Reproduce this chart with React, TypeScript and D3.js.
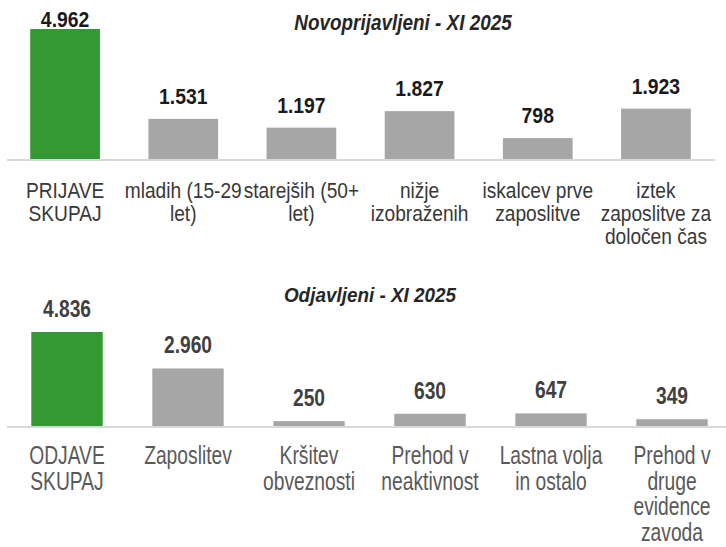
import React from "react";
import * as d3 from "d3";

const topTitle = "Novoprijavljeni - XI 2025";
const topCategories = [
  "PRIJAVE\nSKUPAJ",
  "mladih (15-29\nlet)",
  "starejših (50+\nlet)",
  "nižje\nizobraženih",
  "iskalcev prve\nzaposlitve",
  "iztek\nzaposlitve za\ndoločen čas",
];
const topValues = [4962, 1531, 1197, 1827, 798, 1923];
const topLabels = ["4.962", "1.531", "1.197", "1.827", "798", "1.923"];

const bottomTitle = "Odjavljeni - XI 2025";
const bottomCategories = [
  "ODJAVE\nSKUPAJ",
  "Zaposlitev",
  "Kršitev\nobveznosti",
  "Prehod v\nneaktivnost",
  "Lastna volja\nin ostalo",
  "Prehod v\ndruge\nevidence\nzavoda",
];
const bottomValues = [4836, 2960, 250, 630, 647, 349];
const bottomLabels = ["4.836", "2.960", "250", "630", "647", "349"];

const GREEN = "#339933";
const GREY = "#a6a6a6";
const AXIS = "#d9d9d9";
const FONT = "'Liberation Sans', Arial, sans-serif";

type PanelCfg = {
  title: string;
  cats: string[];
  vals: number[];
  labels: string[];
  x0: number;
  x1: number;
  base: number;
  top: number;
  axisX0: number;
  axisX1: number;
  titleX: number;
  titleY: number;
  titleSize: number;
  titleSx: number;
  valSize: number;
  valSx: number;
  valColor: string;
  valMinY: number;
  catSize: number;
  catSx: number;
  catColor: string;
  catY: number;
  catLH: number;
};

function Txt(props: {
  x: number;
  y: number;
  sx: number;
  size: number;
  weight?: string;
  italic?: boolean;
  fill: string;
  children: string;
}) {
  const { x, y, sx, size, weight, italic, fill, children } = props;
  return (
    <g transform={`translate(${x},${y}) scale(${sx},1)`}>
      <text
        x={0}
        y={0}
        textAnchor="middle"
        fontFamily={FONT}
        fontSize={size}
        fontWeight={weight || "normal"}
        fontStyle={italic ? "italic" : "normal"}
        fill={fill}
      >
        {children}
      </text>
    </g>
  );
}

function Panel({ c }: { c: PanelCfg }) {
  const x = d3
    .scaleBand<string>()
    .domain(c.cats)
    .range([c.x0, c.x1])
    .paddingInner(0.41)
    .paddingOuter(0.205);
  const y = d3
    .scaleLinear()
    .domain([0, d3.max(c.vals) as number])
    .range([c.base, c.top]);
  return (
    <g>
      <Txt x={c.titleX} y={c.titleY} sx={c.titleSx} size={c.titleSize} weight="bold" italic fill="#262626">
        {c.title}
      </Txt>
      {c.cats.map((cat, i) => (
        <rect
          key={"b" + i}
          x={x(cat)}
          y={y(c.vals[i])}
          width={x.bandwidth()}
          height={c.base - y(c.vals[i])}
          fill={i === 0 ? GREEN : GREY}
        />
      ))}
      <line x1={c.axisX0} x2={c.axisX1} y1={c.base + 1} y2={c.base + 1} stroke={AXIS} strokeWidth={2} />
      {c.cats.map((cat, i) => (
        <Txt
          key={"v" + i}
          x={(x(cat) as number) + x.bandwidth() / 2}
          y={Math.max(y(c.vals[i]) - 15, c.valMinY)}
          sx={c.valSx}
          size={c.valSize}
          weight="bold"
          fill={c.valColor}
        >
          {c.labels[i]}
        </Txt>
      ))}
      {c.cats.map((cat, i) =>
        cat.split("\n").map((line, j) => (
          <Txt
            key={"c" + i + "_" + j}
            x={(x(cat) as number) + x.bandwidth() / 2}
            y={c.catY + j * c.catLH}
            sx={c.catSx}
            size={c.catSize}
            fill={c.catColor}
          >
            {line}
          </Txt>
        ))
      )}
    </g>
  );
}

export default function App() {
  const topCfg: PanelCfg = {
    title: topTitle,
    cats: topCategories,
    vals: topValues,
    labels: topLabels,
    x0: 6,
    x1: 715,
    base: 159,
    top: 29,
    axisX0: 7,
    axisX1: 715,
    titleX: 403,
    titleY: 30,
    titleSize: 22,
    titleSx: 0.86,
    valSize: 22,
    valSx: 0.88,
    valColor: "#1a1a1a",
    valMinY: 27,
    catSize: 21.5,
    catSx: 0.89,
    catColor: "#383838",
    catY: 198,
    catLH: 23,
  };
  const bottomCfg: PanelCfg = {
    title: bottomTitle,
    cats: bottomCategories,
    vals: bottomValues,
    labels: bottomLabels,
    x0: 6.5,
    x1: 732.5,
    base: 426,
    top: 332,
    axisX0: 7,
    axisX1: 726,
    titleX: 370,
    titleY: 302,
    titleSize: 21,
    titleSx: 0.9,
    valSize: 24,
    valSx: 0.8,
    valColor: "#404040",
    valMinY: 0,
    catSize: 25,
    catSx: 0.77,
    catColor: "#595959",
    catY: 464,
    catLH: 25.5,
  };
  return (
    <svg
      width={726}
      height={547}
      style={{ position: "absolute", left: 0, top: 0, background: "#fff" }}
    >
      <rect width={726} height={547} fill="#fff" />
      <Panel c={topCfg} />
      <Panel c={bottomCfg} />
    </svg>
  );
}
